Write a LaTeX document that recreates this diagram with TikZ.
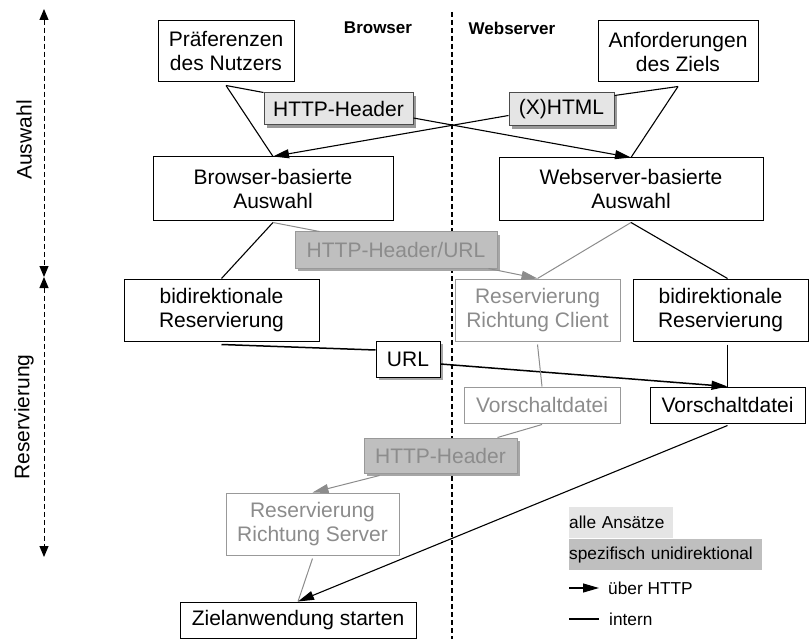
\documentclass[tikz,border=0pt]{standalone}
\usepackage{fontspec}
\setmainfont{Liberation Sans}
\usetikzlibrary{arrows.meta,shadows}
\begin{document}
\begin{tikzpicture}[x=1bp,y=-1bp,
  font=\fontsize{21bp}{24bp}\selectfont,
  box/.style={draw=black, line width=1bp, fill=white, align=center, inner sep=0pt},
  graybox/.style={draw=black!40, line width=1bp, fill=white, text=black!45, align=center, inner sep=0pt},
  lightlbl/.style={draw=black!70, line width=1bp, fill=black!10, align=center, inner sep=0pt,
     drop shadow={shadow xshift=3bp, shadow yshift=-3bp, fill=black!40, opacity=1}},
  darklbl/.style={draw=black!40, line width=1bp, fill=black!25, text=black!45, align=center, inner sep=0pt,
     drop shadow={shadow xshift=3bp, shadow yshift=-3bp, fill=black!35, opacity=1}},
  conn/.style={line width=1.1bp, black},
  gconn/.style={line width=1bp, black!45},
  arr/.style={-{Triangle[length=16bp,width=9bp]}},
  axis/.style={line width=1bp, dash pattern=on 5bp off 3bp, {Triangle[length=11bp,width=9bp]}-{Triangle[length=11bp,width=9bp]}},
  legtext/.style={font=\fontsize{17.3bp}{20bp}\selectfont, inner sep=0pt}
]
\useasboundingbox (0,0) rectangle (810,639);

% divider and axes
\coordinate (dtop) at (452,12);
\coordinate (dbot) at (452,639);
\draw[line width=1.6bp, dash pattern=on 5bp off 3bp] (dtop) -- (dbot);
\coordinate (a1) at (44,9);
\coordinate (a2) at (44,277);
\coordinate (a3) at (44,557);
\draw[axis] (a1) -- (a2);
\draw[axis] (a2) -- (a3);
\node[rotate=90] (lauswahl) at (24,140) {Auswahl};
\node[rotate=90] (lreserv) at (24,417) {Reservierung};

\node[font=\fontsize{17bp}{20bp}\selectfont\bfseries] (hbrowser) at (378,28) {Browser};
\node[font=\fontsize{17bp}{20bp}\selectfont\bfseries] (hweb) at (512,28) {Webserver};

% nodes
\node[box, minimum width=136bp, minimum height=61bp] (praef) at (226,51.5) {Präferenzen\\des Nutzers};
\node[box, minimum width=160bp, minimum height=61bp] (anf) at (678,51.5) {Anforderungen\\des Ziels};
\node[lightlbl, minimum width=149bp, minimum height=32bp] (hh1) at (338.5,109) {HTTP-Header};
\node[lightlbl, minimum width=105bp, minimum height=33bp] (xhtml) at (561.5,109.5) {(X)HTML};
\node[box, minimum width=240bp, minimum height=63bp] (bba) at (273,188.5) {Browser-basierte\\Auswahl};
\node[box, minimum width=264bp, minimum height=62bp] (wba) at (631,189) {Webserver-basierte\\Auswahl};
\node[darklbl, minimum width=202bp, minimum height=36bp] (hhu) at (396,250) {HTTP-Header/URL};
\node[box, minimum width=195bp, minimum height=62bp] (bidl) at (221.5,310) {bidirektionale\\Reservierung};
\node[graybox, minimum width=165bp, minimum height=62bp] (rrc) at (537.5,310) {Reservierung\\Richtung Client};
\node[box, minimum width=175bp, minimum height=62bp] (bidr) at (720.5,310) {bidirektionale\\Reservierung};
\node[box, minimum width=64bp, minimum height=36bp,
  drop shadow={shadow xshift=3bp, shadow yshift=-3bp, fill=black!35, opacity=1}] (url) at (408,359) {URL};
\node[graybox, minimum width=156bp, minimum height=36bp] (vg) at (542,405) {Vorschaltdatei};
\node[box, minimum width=155bp, minimum height=36bp] (vb) at (727.5,405) {Vorschaltdatei};
\node[darklbl, minimum width=153bp, minimum height=35bp] (hh2) at (440.5,455.5) {HTTP-Header};
\node[graybox, minimum width=173bp, minimum height=62bp] (rrs) at (312.5,524) {Reservierung\\Richtung Server};
\node[box, minimum width=236bp, minimum height=36bp] (ziel) at (298,620) {Zielanwendung starten};

% connectors: Auswahl
\draw[conn] ([yshift=-3bp]praef.south) -- (bba.north);
\draw[conn] ([yshift=-3bp]praef.south) -- (hh1.north west);
\draw[conn,arr] ([yshift=-9bp]hh1.east) -- (wba.north);
\draw[conn] ([yshift=-4bp]anf.south) -- (wba.north);
\draw[conn] ([yshift=-4bp]anf.south) -- ([yshift=-3bp]xhtml.north east);
\draw[conn,arr] ([yshift=-6bp]xhtml.west) -- (bba.north);

% Auswahl -> Reservierung
\draw[conn] ([yshift=-2bp]bba.south) -- (bidl.north);
\draw[gconn] ([yshift=-2bp]bba.south) -- ([xshift=25bp]hhu.north west);
\draw[gconn,arr] ([xshift=-9bp]hhu.south east) -- (rrc.north);
\draw[gconn] ([yshift=-2bp]wba.south) -- (rrc.north);
\draw[conn] ([yshift=-2bp]wba.south) -- (bidr.north -| vb.north);

% Reservierung
\draw[line width=1.5bp] ([yshift=-3bp]bidl.south) -- ([yshift=9bp]url.west);
\draw[line width=1.5bp,arr] ([yshift=-5bp]url.east) -- (vb.north);
\draw[conn] ([yshift=-3bp]bidr.south -| vb.north) -- (vb.north);
\draw[gconn] ([yshift=-3bp]rrc.south) -- (vg.north);
\draw[gconn] ([yshift=-1bp]vg.south) -- ([xshift=-20bp]hh2.north east);
\draw[gconn,arr] ([xshift=16bp,yshift=-2bp]hh2.south west) -- (rrs.north);
\draw[gconn] ([yshift=-3bp]rrs.south) -- (ziel.north);
\draw[conn,arr] ([yshift=-2bp]vb.south) -- (ziel.north);

% legend
\node[legtext, fill=black!10, anchor=north west, minimum width=104bp, minimum height=31bp, text width=104bp, align=left] (lg1) at (569,507) {alle Ansätze};
\node[legtext, fill=black!25, anchor=north west, minimum width=193bp, minimum height=31bp, text width=193bp, align=left] (lg2) at (569,539) {spezifisch unidirektional};
\coordinate (la1) at (569,588);
\coordinate (la2) at (599,588);
\draw[conn,arr] (la1) -- (la2);
\node[legtext, anchor=west] (lg3) at (608,588) {über HTTP};
\coordinate (ll1) at (569,619);
\coordinate (ll2) at (599,619);
\draw[conn] (ll1) -- (ll2);
\node[legtext, anchor=west] (lg4) at (609,619) {intern};
\end{tikzpicture}
\end{document}
